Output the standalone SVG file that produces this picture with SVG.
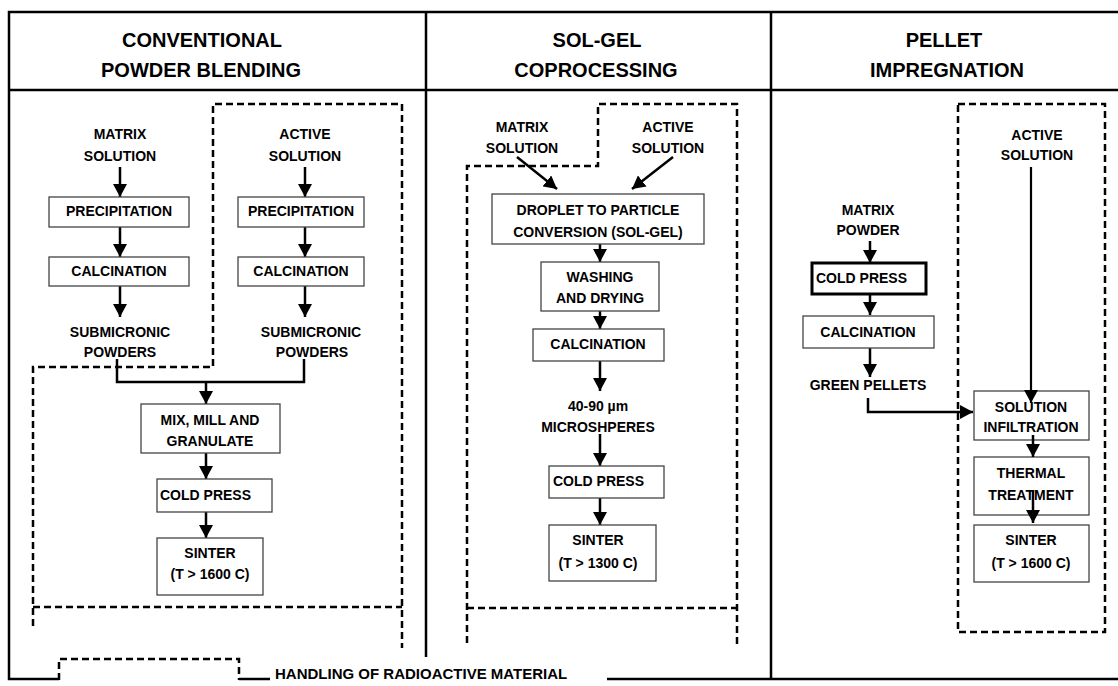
<svg xmlns="http://www.w3.org/2000/svg" width="1118" height="686" viewBox="0 0 1118 686">
<defs>
<style>
.frame{fill:none;stroke:#000;stroke-width:2.5}
.dash{fill:none;stroke:#000;stroke-width:2.5;stroke-dasharray:7 4}
.box{fill:#fff;stroke:#444;stroke-width:1.3}
.boxb{fill:#fff;stroke:#000;stroke-width:3}
.arr{fill:none;stroke:#000;stroke-width:2.5}
.t{font-family:"Liberation Sans",Arial,sans-serif;font-weight:bold;font-size:14px;fill:#000;text-anchor:middle}
.ts{font-family:"Liberation Sans",Arial,sans-serif;font-weight:bold;font-size:14px;fill:#000;text-anchor:start}
.h{font-family:"Liberation Sans",Arial,sans-serif;font-weight:bold;font-size:20px;fill:#000;text-anchor:middle}
.leg{font-family:"Liberation Sans",Arial,sans-serif;font-weight:bold;font-size:15px;fill:#000}
</style>
<marker id="ah" markerUnits="userSpaceOnUse" markerWidth="14" markerHeight="14" refX="13" refY="7" orient="auto">
<path d="M0,0 L13,7 L0,14 z" fill="#000"/>
</marker>
</defs>
<rect width="1118" height="686" fill="#fff"/>

<g id="frame">
<path class="frame" d="M1118,12 L9,12 L9,679 L59,679 M239,679 L270,679 M607,679 L1118,679 M9,90 L1118,90 M426,12 L426,657 M771,12 L771,679"/>
<text class="h" x="202" y="47">CONVENTIONAL</text>
<text class="h" x="201" y="77">POWDER BLENDING</text>
<text class="h" x="597" y="47">SOL-GEL</text>
<text class="h" x="596" y="77">COPROCESSING</text>
<text class="h" x="944" y="47">PELLET</text>
<text class="h" x="947" y="77">IMPREGNATION</text>
</g>

<g id="enclosures">
<path class="dash" d="M33,626 L33,367 L213,367 L213,104 L402,104 L402,648 M33,607 L402,607"/>
<path class="dash" d="M467,643 L467,166 L598,166 L598,104 L737,104 L737,647 M467,608 L737,608"/>
<rect class="dash" x="958" y="104" width="147" height="528"/>
</g>

<g id="legend">
<path class="dash" d="M59,680 L59,659 L239,659 L239,680"/>
<text class="leg" x="275" y="679">HANDLING OF RADIOACTIVE MATERIAL</text>
</g>

<g id="connectors">
<line class="arr" x1="120" y1="167" x2="120" y2="197" marker-end="url(#ah)"/>
<line class="arr" x1="120" y1="227" x2="120" y2="257" marker-end="url(#ah)"/>
<line class="arr" x1="120" y1="286" x2="120" y2="317" marker-end="url(#ah)"/>
<line class="arr" x1="305" y1="167" x2="305" y2="197" marker-end="url(#ah)"/>
<line class="arr" x1="305" y1="227" x2="305" y2="257" marker-end="url(#ah)"/>
<line class="arr" x1="305" y1="286" x2="305" y2="317" marker-end="url(#ah)"/>
<polyline class="arr" points="117,359 117,382 304,382 304,359"/>
<line class="arr" x1="206" y1="382" x2="206" y2="404" marker-end="url(#ah)"/>
<line class="arr" x1="206" y1="453" x2="206" y2="479" marker-end="url(#ah)"/>
<line class="arr" x1="206" y1="512" x2="206" y2="538" marker-end="url(#ah)"/>

<line class="arr" x1="517" y1="157" x2="557" y2="189" marker-end="url(#ah)"/>
<line class="arr" x1="673" y1="157" x2="632" y2="189" marker-end="url(#ah)"/>
<line class="arr" x1="600" y1="244" x2="600" y2="262" marker-end="url(#ah)"/>
<line class="arr" x1="600" y1="311" x2="600" y2="329" marker-end="url(#ah)"/>
<line class="arr" x1="600" y1="361" x2="600" y2="391" marker-end="url(#ah)"/>
<line class="arr" x1="600" y1="434" x2="600" y2="466" marker-end="url(#ah)"/>
<line class="arr" x1="600" y1="498" x2="600" y2="525" marker-end="url(#ah)"/>

<line class="arr" x1="870" y1="241" x2="870" y2="263" marker-end="url(#ah)"/>
<line class="arr" x1="870" y1="294" x2="870" y2="315" marker-end="url(#ah)"/>
<line class="arr" x1="870" y1="348" x2="870" y2="377" marker-end="url(#ah)"/>
<polyline class="arr" points="868,398 868,412 973,412" marker-end="url(#ah)"/>
</g>

<g id="col1-left">
<text class="t" x="120" y="139">MATRIX</text>
<text class="t" x="120" y="161">SOLUTION</text>
<g id="c1-precip-l"><rect class="box" x="49" y="197" width="140" height="30"/><text class="t" x="119" y="216">PRECIPITATION</text></g>
<g id="c1-calc-l"><rect class="box" x="49" y="257" width="140" height="29"/><text class="t" x="119" y="276">CALCINATION</text></g>
<text class="t" x="120" y="337">SUBMICRONIC</text>
<text class="t" x="120" y="357">POWDERS</text>
</g>
<g id="col1-right">
<text class="t" x="305" y="139">ACTIVE</text>
<text class="t" x="305" y="161">SOLUTION</text>
<g id="c1-precip-r"><rect class="box" x="238" y="197" width="126" height="30"/><text class="t" x="301" y="216">PRECIPITATION</text></g>
<g id="c1-calc-r"><rect class="box" x="238" y="257" width="126" height="29"/><text class="t" x="301" y="276">CALCINATION</text></g>
<text class="t" x="311" y="337">SUBMICRONIC</text>
<text class="t" x="312" y="357">POWDERS</text>
</g>
<g id="c1-mix"><rect class="box" x="141" y="404" width="139" height="49"/><text class="t" x="210" y="425">MIX, MILL AND</text><text class="t" x="210" y="446">GRANULATE</text></g>
<g id="c1-press"><rect class="box" x="157" y="479" width="115" height="33"/><text class="ts" x="160" y="500">COLD PRESS</text></g>
<g id="c1-sinter"><rect class="box" x="157" y="538" width="106" height="57"/><text class="t" x="210" y="558">SINTER</text><text class="t" x="210" y="579">(T &gt; 1600 C)</text></g>

<g id="col2-inputs">
<text class="t" x="522" y="132">MATRIX</text>
<text class="t" x="522" y="153">SOLUTION</text>
<text class="t" x="668" y="132">ACTIVE</text>
<text class="t" x="668" y="153">SOLUTION</text>
</g>
<g id="c2-droplet"><rect class="box" x="492" y="194" width="212" height="50"/><text class="t" x="598" y="215">DROPLET TO PARTICLE</text><text class="t" x="598" y="237">CONVERSION (SOL-GEL)</text></g>
<g id="c2-wash"><rect class="box" x="541" y="262" width="118" height="49"/><text class="t" x="600" y="282">WASHING</text><text class="t" x="600" y="303">AND DRYING</text></g>
<g id="c2-calc"><rect class="box" x="533" y="329" width="131" height="32"/><text class="t" x="598" y="349">CALCINATION</text></g>
<g id="c2-micro"><text class="t" x="598" y="411">40-90 µm</text><text class="t" x="598" y="432">MICROSHPERES</text></g>
<g id="c2-press"><rect class="box" x="549" y="466" width="115" height="32"/><text class="ts" x="553" y="486">COLD PRESS</text></g>
<g id="c2-sinter"><rect class="box" x="549" y="525" width="107" height="56"/><text class="t" x="598" y="545">SINTER</text><text class="t" x="598" y="568">(T &gt; 1300 C)</text></g>

<g id="col3-matrix">
<text class="t" x="868" y="215">MATRIX</text>
<text class="t" x="868" y="235">POWDER</text>
</g>
<g id="c3-press"><rect class="boxb" x="812" y="263" width="114" height="31"/><text class="ts" x="816" y="283">COLD PRESS</text></g>
<g id="c3-calc"><rect class="box" x="803" y="316" width="131" height="32"/><text class="t" x="868" y="337">CALCINATION</text></g>
<g id="c3-green"><text class="t" x="868" y="390">GREEN PELLETS</text></g>
<g id="c3-active"><text class="t" x="1037" y="140">ACTIVE</text><text class="t" x="1037" y="160">SOLUTION</text></g>
<g id="c3-infil"><rect class="box" x="974" y="391" width="115" height="49"/><text class="t" x="1031" y="412">SOLUTION</text><text class="t" x="1031" y="432">INFILTRATION</text></g>
<g id="c3-thermal"><rect class="box" x="974" y="457" width="115" height="58"/><text class="t" x="1031" y="478">THERMAL</text><text class="t" x="1031" y="500">TREATMENT</text></g>
<g id="c3-sinter"><rect class="box" x="974" y="525" width="115" height="57"/><text class="t" x="1031" y="545">SINTER</text><text class="t" x="1031" y="568">(T &gt; 1600 C)</text></g>

<g id="connectors-over">
<line class="arr" x1="1031" y1="167" x2="1031" y2="403" marker-end="url(#ah)" style="stroke-width:2.2"/>
<line class="arr" x1="1033" y1="435" x2="1033" y2="457" marker-end="url(#ah)"/>
<line class="arr" x1="1033" y1="490" x2="1033" y2="523" marker-end="url(#ah)"/>
</g>
</svg>
